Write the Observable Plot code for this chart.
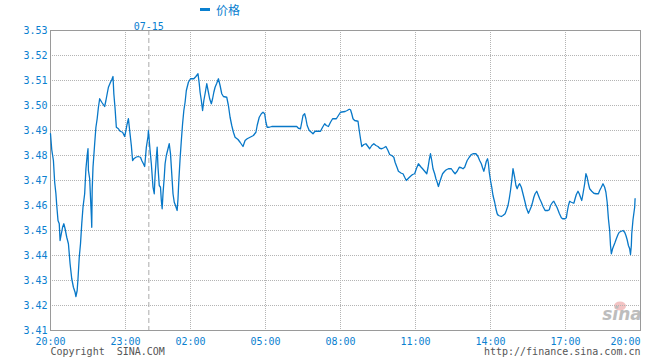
<!DOCTYPE html>
<html><head><meta charset="utf-8">
<script src="https://cdn.jsdelivr.net/npm/d3@7"></script>
<script src="https://cdn.jsdelivr.net/npm/@observablehq/plot@0.6"></script>
<style>body{margin:0;background:#fff} #chart svg{display:block}</style>
</head><body><div id="chart"></div>
<script>
// trading-minute index since 20:00 (the session skips ~24 minutes around midnight)
const minutes = [0,3,7,10,13,15,18,21,23,26,29,32,35,39,43,47,51,55,59,61,64,66,69,72,75,78,82,85,88,90,91,94,96,98,99,100,102,106,109,112,115,118,123,130,133,136,139,144,147,150,152,155,158,163,167,173,178,181,184,187,190,194,197,200,205,210,216,219,223,226,228,230,234,235,237,239,242,244,246,249,251,254,256,258,261,264,266,268,270,273,275,278,282,285,288,291,294,297,300,304,306,308,311,314,317,320,323,326,331,336,344,349,354,357,
359,362,365,368,371,375,379,382,386,389,392,395,399,403,407,411,415,423,427,431,435,439,443,450,455,462,467,472,479,487,493,496,501,506,510,514,517,520,525,531,591,595,600,603,606,610,613,616,621,626,630,635,648,653,658,662,667,672,677,686,691,696,707,712,717,
720,723,726,730,738,741,744,747,752,757,762,766,771,776,781,786,790,795,800,805,810,814,819,824,827,832,835,842,846,850,854,859,864,869,874,878,883,888,893,898,903,906,909,912,915,918,922,925,928,931,934,938,941,946,950,955,962,966,971,976,981,986,990,994,997,1000,1005,1010,1014,1021,1026,1030,1034,1037,1040,1043,1046,1049,1051,1053,1056,1059,1062,1066,1069,1072,1075,
1082,1086,1091,1094,1098,1101,1104,1107,1110,1114,1117,1120,1123,1126,1130,1133,1136,1139,1142,1147,1150,1154,1157,1160,1163,1167,1171,1174,1178,1182,1187,1194,1197,1200,1205,1208,1211,1216,1221,1226,1229,1235,1238,1240,1243,1246,1250,1256,1259,1262,1266,1269,1272,1275,1278,1282,1285,1288,1291,1294,1299,1304,1309,1315,1318,1322,1326,1330,1333,1336,1339,1342,1344,1346,1349,1352,1355,1358,1362,1365,1370,1374,1378,1381,1384,1387,1390,1392,1394,1395,1398,1402,1403];
const prices = [3.4887,3.4823,3.478,3.4693,3.4647,3.46,3.454,3.4527,3.446,3.4487,3.4513,3.4527,3.4507,3.4473,3.4447,3.4367,3.4307,3.4273,3.4253,3.4236,3.426,3.4307,3.4393,3.4447,3.4527,3.4593,3.4647,3.4747,3.48,3.4827,3.474,3.4707,3.4633,3.456,3.4513,3.466,3.4753,3.4847,3.4913,3.4947,3.4993,3.5027,3.5013,3.4996,3.502,3.5047,3.5073,3.5093,3.5103,3.5116,3.5047,3.4987,3.4913,3.4907,3.4897,3.4893,3.4876,3.49,3.4927,3.4947,3.49,3.484,3.478,3.4787,3.4793,3.4796,3.4793,3.478,3.4767,3.4756,3.4793,3.4833,3.4876,3.49,3.486,3.482,3.4767,3.472,3.4673,3.4647,3.472,3.4793,3.4833,3.4753,3.468,3.4673,3.462,3.4587,3.4647,3.4713,3.4767,3.48,3.4827,3.4847,3.4807,3.4727,3.4647,3.4613,3.46,3.458,3.4627,3.47,3.4787,3.486,3.4927,3.498,3.5013,3.506,3.5093,3.5107,3.5107,3.5116,3.5127,3.5087,
3.5053,3.502,3.498,3.502,3.5047,3.5087,3.5053,3.5027,3.5007,3.5027,3.5053,3.5073,3.5089,3.5107,3.508,3.5047,3.5036,3.5033,3.5,3.4953,3.492,3.4893,3.4873,3.4864,3.4853,3.4836,3.486,3.4867,3.4873,3.488,3.4893,3.492,3.4953,3.4967,3.4973,3.4967,3.4933,3.4913,3.4913,3.4916,3.4916,3.4909,3.4907,3.4933,3.496,3.4967,3.4947,3.492,3.49,3.4893,3.4887,3.4897,3.4897,3.4913,3.4927,3.492,3.4916,3.4933,3.4947,3.4947,3.496,3.4973,3.4976,3.498,3.4985,
3.4983,3.4967,3.4947,3.494,3.4937,3.49,3.4867,3.4836,3.4844,3.4847,3.4836,3.4827,3.484,3.4847,3.484,3.4836,3.4829,3.4827,3.4831,3.4836,3.482,3.4804,3.48,3.4793,3.4773,3.4751,3.4737,3.4729,3.4727,3.4713,3.47,3.4709,3.4717,3.4724,3.4727,3.4747,3.4767,3.4756,3.4747,3.4737,3.4727,3.4751,3.4783,3.4807,3.478,3.4747,3.4727,3.4707,3.4693,3.4676,3.4693,3.4713,3.4727,3.4737,3.4743,3.4747,3.4747,3.4737,3.4727,3.4737,3.4753,3.4751,3.4747,3.4753,3.4767,3.478,3.4793,3.4804,3.4807,3.4807,3.4796,3.478,3.4767,3.4751,3.4737,3.4756,3.4777,3.4787,3.4769,3.4733,3.47,3.4673,3.464,3.4613,3.4587,3.4567,3.456,
3.4556,3.456,3.4567,3.458,3.46,3.4627,3.466,3.47,3.4747,3.4713,3.468,3.4667,3.468,3.4687,3.4673,3.4653,3.4633,3.4613,3.4591,3.4569,3.458,3.4596,3.4613,3.4633,3.4647,3.4657,3.464,3.4627,3.4613,3.4596,3.458,3.458,3.4583,3.46,3.4613,3.4617,3.4607,3.4591,3.4569,3.4551,3.4547,3.4547,3.4551,3.4573,3.46,3.4617,3.4613,3.4609,3.4627,3.4644,3.4657,3.4647,3.4633,3.462,3.4647,3.4687,3.4727,3.4713,3.4687,3.4667,3.4657,3.4649,3.4647,3.4647,3.466,3.4673,3.4687,3.4673,3.4653,3.4613,3.4547,3.45,3.444,3.4407,3.4427,3.444,3.4453,3.4467,3.4484,3.4493,3.4497,3.45,3.4493,3.448,3.4463,3.444,3.4427,3.4404,3.444,3.4487,3.4543,3.4593,3.4627];

const xTickMinutes = [0,180,336,516,696,876,1056,1236,1416];
const xTickLabels = ["20:00","23:00","02:00","05:00","08:00","11:00","14:00","17:00","20:00"];
const yTicks = [3.41,3.42,3.43,3.44,3.45,3.46,3.47,3.48,3.49,3.50,3.51,3.52,3.53];
const dateMarkMinute = [236];
const dateMarkLabel = ["07-15"];
const seriesName = "价格";
const copyrightText = "Copyright\u00a0 SINA.COM";
const urlText = "http://finance.sina.com.cn";

const data = minutes.map((m, i) => ({m, price: prices[i]}));
const xLabel = new Map(xTickMinutes.map((m, i) => [m, xTickLabels[i]]));
const blue = "#0a80d0";
const lineColor = "#0878c8";
const gridColor = "#b4b4b4";

const chart = Plot.plot({
  width: 660, height: 360,
  marginLeft: 50, marginRight: 20, marginTop: 30, marginBottom: 30,
  style: {fontFamily: "'DejaVu Sans Mono', monospace", fontSize: "10px", background: "#fff", overflow: "visible"},
  x: {domain: [xTickMinutes[0], xTickMinutes[xTickMinutes.length - 1]]},
  y: {domain: [yTicks[0], yTicks[yTicks.length - 1]]},
  marks: [
    () => {
      // faint watermark logo in the plot's lower-right corner
      const g = d3.create("svg:g");
      g.append("ellipse").attr("cx", 620).attr("cy", 306).attr("rx", 6).attr("ry", 4.5).attr("fill", "#f0b4b4").attr("opacity", 0.8);
      g.append("text").attr("x", 622).attr("y", 320).attr("text-anchor", "middle").attr("fill", "#bdbdbd")
        .style("font-family", "'DejaVu Sans', sans-serif").style("font-size", "17px").style("font-weight", "bold").style("font-style", "italic").text("sina");
      return g.node();
    },
    Plot.gridX(xTickMinutes.slice(1, -1), {stroke: gridColor, strokeOpacity: 1, strokeDasharray: "1,1"}),
    Plot.gridY(yTicks.slice(1, -1), {stroke: gridColor, strokeOpacity: 1, strokeDasharray: "1,1"}),
    Plot.ruleX(dateMarkMinute, {stroke: "#aaa", strokeDasharray: "5,3"}),
    Plot.frame({stroke: "#9a9a9a"}),
    Plot.line(data, {x: "m", y: "price", stroke: lineColor, strokeWidth: 1.3}),
    Plot.axisY(yTicks, {tickSize: 0, tickPadding: 3, fill: blue, label: null, tickFormat: d => d.toFixed(2)}),
    Plot.axisX(xTickMinutes.slice(0, -1), {tickSize: 0, tickPadding: 7, fill: blue, label: null, tickFormat: d => xLabel.get(d)}),
    Plot.axisX(xTickMinutes.slice(-1), {tickSize: 0, tickPadding: 7, fill: blue, label: null, textAnchor: "end", tickFormat: d => xLabel.get(d)}),
    Plot.text(dateMarkMinute, {x: d => d, frameAnchor: "top", dy: -8, text: (d, i) => dateMarkLabel[i], fill: blue}),
    Plot.text([copyrightText], {frameAnchor: "bottom-left", dy: 24, textAnchor: "start", fill: "#555", text: d => d}),
    Plot.text([urlText], {frameAnchor: "bottom-right", dy: 24, textAnchor: "end", fill: "#555", text: d => d}),
    () => {
      const g = d3.create("svg:g");
      g.append("rect").attr("x", 200).attr("y", 8).attr("width", 10).attr("height", 3).attr("fill", blue);
      g.append("text").attr("x", 216).attr("y", 10.5).attr("dy", "0.35em").attr("text-anchor", "start").attr("fill", blue)
        .style("font-family", "'Noto Sans CJK SC', sans-serif").style("font-size", "12px").text(seriesName);
      return g.node();
    }
  ]
});
document.getElementById("chart").appendChild(chart);
</script>
</body></html>
